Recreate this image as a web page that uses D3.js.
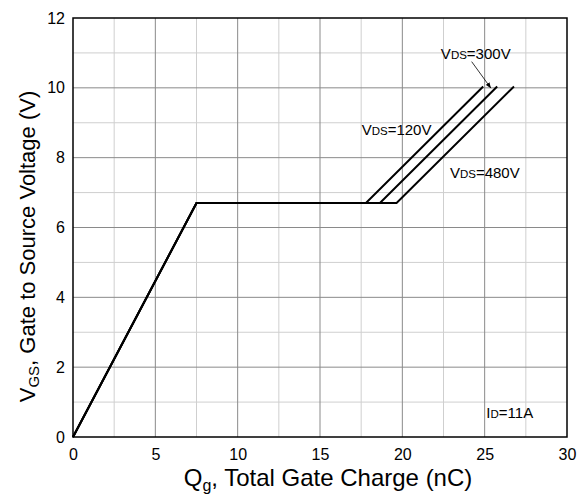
<!DOCTYPE html>
<meta charset="utf-8">
<title>Gate Charge</title>
<script src="https://d3js.org/d3.v7.min.js"></script>
<style>
  body { margin: 0; background: #fff; }
  text { font-family: "Liberation Sans", Arial, sans-serif; }
</style>
<body>
<svg width="582" height="496"></svg>
<script>
  // Gate charge curves (Qg nC, VGS V) for each VDS
  var qg120 = [0, 7.5, 17.79, 24.91];
  var vgs120 = [0, 6.7, 6.7, 10.04];
  var qg300 = [0, 7.5, 18.64, 25.76];
  var vgs300 = [0, 6.7, 6.7, 10.04];
  var qg480 = [0, 7.5, 19.65, 26.78];
  var vgs480 = [0, 6.7, 6.7, 10.04];

  var xTicks = [0, 5, 10, 15, 20, 25, 30];
  var yTicks = [0, 2, 4, 6, 8, 10, 12];

  var svg = d3.select("svg"),
      margin = {top: 18, right: 15, bottom: 59, left: 73},
      width = +svg.attr("width") - margin.left - margin.right,
      height = +svg.attr("height") - margin.top - margin.bottom;

  var g = svg.append("g")
      .attr("transform", "translate(" + margin.left + "," + margin.top + ")");

  var x = d3.scaleLinear().domain([0, 30]).range([0, width]);
  var y = d3.scaleLinear().domain([0, 12]).range([height, 0]);

  // minor grid
  g.append("g").selectAll("line")
    .data(d3.range(2.5, 30, 5))
    .enter().append("line")
      .attr("x1", function(d) { return x(d); }).attr("x2", function(d) { return x(d); })
      .attr("y1", 0).attr("y2", height)
      .attr("stroke", "#cfcfcf").attr("stroke-width", 1);
  g.append("g").selectAll("line")
    .data(d3.range(1, 12, 2))
    .enter().append("line")
      .attr("y1", function(d) { return y(d); }).attr("y2", function(d) { return y(d); })
      .attr("x1", 0).attr("x2", width)
      .attr("stroke", "#cfcfcf").attr("stroke-width", 1);

  // major grid
  g.append("g").selectAll("line")
    .data(xTicks.slice(1, -1))
    .enter().append("line")
      .attr("x1", function(d) { return x(d); }).attr("x2", function(d) { return x(d); })
      .attr("y1", 0).attr("y2", height)
      .attr("stroke", "#8a8a8a").attr("stroke-width", 1);
  g.append("g").selectAll("line")
    .data(yTicks.slice(1, -1))
    .enter().append("line")
      .attr("y1", function(d) { return y(d); }).attr("y2", function(d) { return y(d); })
      .attr("x1", 0).attr("x2", width)
      .attr("stroke", "#8a8a8a").attr("stroke-width", 1);

  // frame
  g.append("rect")
      .attr("width", width).attr("height", height)
      .attr("fill", "none").attr("stroke", "#000").attr("stroke-width", 1.5);

  // axes
  var xAxis = g.append("g")
      .attr("transform", "translate(0," + height + ")")
      .call(d3.axisBottom(x).tickValues(xTicks).tickSize(0).tickPadding(12));
  var yAxis = g.append("g")
      .call(d3.axisLeft(y).tickValues(yTicks).tickSize(0).tickPadding(8));
  [xAxis, yAxis].forEach(function(a) {
    a.select(".domain").remove();
    a.selectAll("text")
      .style("font-family", "'Liberation Sans', Arial, sans-serif")
      .style("font-size", "16px").attr("fill", "#000");
  });

  // curves
  var curves = [
    {name: "120V", qg: qg120, v: vgs120},
    {name: "300V", qg: qg300, v: vgs300},
    {name: "480V", qg: qg480, v: vgs480}
  ];
  var line = d3.line()
      .x(function(d) { return x(d[0]); })
      .y(function(d) { return y(d[1]); });

  g.selectAll(".curve")
    .data(curves)
    .enter().append("path")
      .attr("class", "curve")
      .attr("d", function(c) { return line(c.qg.map(function(q, i) { return [q, c.v[i]]; })); })
      .attr("fill", "none")
      .attr("stroke", "#000")
      .attr("stroke-width", 2)
      .attr("stroke-linejoin", "miter");

  // annotations
  var labelPos = [
    {pre: "V", sub: "DS", post: "=300V", q: 22.34, v: 10.83},
    {pre: "V", sub: "DS", post: "=120V", q: 17.53, v: 8.65},
    {pre: "V", sub: "DS", post: "=480V", q: 22.89, v: 7.42},
    {pre: "I", sub: "D", post: "=11A", q: 25.1, v: 0.54}
  ];
  labelPos.forEach(function(l) {
    var t = g.append("text")
        .attr("x", x(l.q)).attr("y", y(l.v))
        .attr("font-size", "15px").attr("fill", "#000");
    t.append("tspan").text(l.pre);
    t.append("tspan").attr("font-size", "11.5px").text(l.sub);
    t.append("tspan").text(l.post);
  });

  // arrow to 300V curve
  svg.append("defs").append("marker")
      .attr("id", "arr").attr("viewBox", "0 0 10 10")
      .attr("refX", 10).attr("refY", 5)
      .attr("markerWidth", 7).attr("markerHeight", 7)
      .attr("orient", "auto")
    .append("path").attr("d", "M0,1L10,5L0,9Z").attr("fill", "#000");
  g.append("line")
      .attr("x1", x(24.21)).attr("y1", y(10.75))
      .attr("x2", x(25.38)).attr("y2", y(9.99))
      .attr("stroke", "#000").attr("stroke-width", 0.8)
      .attr("marker-end", "url(#arr)");

  // axis titles
  var xt = svg.append("text")
      .attr("x", 328).attr("y", 486)
      .attr("text-anchor", "middle").attr("font-size", "24px").attr("fill", "#000");
  xt.append("tspan").text("Q");
  xt.append("tspan").attr("font-size", "16px").attr("dy", 5).text("g");
  xt.append("tspan").attr("dy", -5).text(", Total Gate Charge (nC)");

  var yt = svg.append("text")
      .attr("transform", "translate(35," + (margin.top + height / 2 + 19) + ") rotate(-90)")
      .attr("text-anchor", "middle").attr("font-size", "22px").attr("fill", "#000");
  yt.append("tspan").text("V");
  yt.append("tspan").attr("font-size", "15px").attr("dy", 4).text("GS");
  yt.append("tspan").attr("dy", -4).text(", Gate to Source Voltage (V)");
</script>
</body>
